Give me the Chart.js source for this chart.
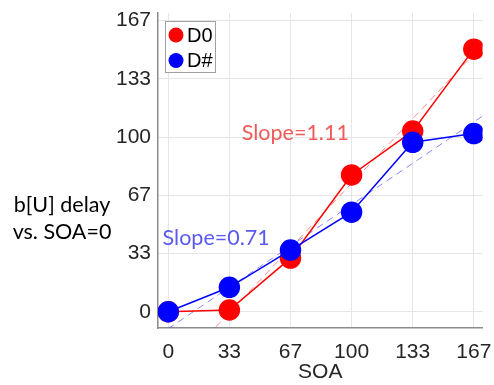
<!DOCTYPE html>
<html>
<head>
<meta charset="utf-8">
<script src="https://cdn.jsdelivr.net/npm/chart.js@4"></script>
<style>
  html, body { margin: 0; padding: 0; background: #fff; }
</style>
</head>
<body>
<canvas id="myChart" width="494" height="385"></canvas>
<script>
/* DATA */

var soa = [0, 33.33, 66.67, 100, 133.33, 166.67];
var tickLabels = ['0', '33', '67', '100', '133', '167'];
var d0 = [0, 1, 30.7, 78.3, 103.4, 150.3];
var dHash = [0, 14, 35.3, 57, 97, 102];
var seriesNames = ['D0', 'D#'];
var fitSlopes = [1.11, 0.71];
var fitIntercepts = [-37.5, -9.7];
var slopeLabels = ['Slope=1.11', 'Slope=0.71'];
var yTitle = ['b[U] delay', 'vs. SOA=0'];

var xMin = -5.6, xMax = 171.4, yMin = -9.3, yMax = 171;

function pts(ys) {
  return soa.map(function(x, i) { return { x: x, y: ys[i] }; });
}

function fitLine(i) {
  return [xMin, xMax].map(function(x) {
    return { x: x, y: fitIntercepts[i] + fitSlopes[i] * x };
  });
}

var calibri = 'Lato, "Open Sans", sans-serif';
var helv = '"Liberation Sans", Arial, sans-serif';

/* EXTRA TEXT + LEGEND */

var extras = {
  id: 'extras',
  afterDraw: function(chart) {
    var ctx = chart.ctx;
    var xs = chart.scales.x, ys = chart.scales.y;
    ctx.save();

    // y title, horizontal on the left
    ctx.fillStyle = '#000';
    ctx.font = '21.5px ' + calibri;
    ctx.textAlign = 'center';
    ctx.textBaseline = 'middle';
    ctx.fillText(yTitle[0], 62, 205);
    ctx.fillText(yTitle[1], 62, 232);

    // slope labels
    ctx.textAlign = 'left';
    ctx.fillStyle = '#f05a5a';
    ctx.fillText(slopeLabels[0], xs.getPixelForValue(40.1), ys.getPixelForValue(102.3));
    ctx.fillStyle = '#5a5af0';
    ctx.fillText(slopeLabels[1], xs.getPixelForValue(-3.1), ys.getPixelForValue(42.2));

    // legend box
    ctx.fillStyle = '#fff';
    ctx.fillRect(165, 21, 51, 52);
    ctx.strokeStyle = '#a0a0a0';
    ctx.lineWidth = 1;
    ctx.strokeRect(165.5, 21.5, 50, 51);
    ctx.font = '20px ' + helv;
    [0, 1].forEach(function(i) {
      var ds = chart.data.datasets[i];
      var cy = 35 + i * 25.5;
      ctx.beginPath();
      ctx.arc(176, cy, 7.5, 0, Math.PI * 2);
      ctx.fillStyle = ds.pointBackgroundColor;
      ctx.fill();
      ctx.fillStyle = '#000';
      ctx.fillText(seriesNames[i], 187, cy + 1);
    });
    ctx.restore();
  }
};

/* CHART */

var ctx = document.getElementById('myChart').getContext('2d');

var chart = new Chart(ctx, {
  type: 'line',
  data: {
    datasets: [{
      label: seriesNames[0],
      data: pts(d0),
      borderColor: '#ff0000',
      backgroundColor: '#ff0000',
      pointBackgroundColor: '#ff0000',
      pointBorderColor: '#ff0000',
      pointRadius: 10,
      borderWidth: 1.5,
      order: 2
    },
    {
      label: seriesNames[1],
      data: pts(dHash),
      borderColor: '#0000ff',
      backgroundColor: '#0000ff',
      pointBackgroundColor: '#0000ff',
      pointBorderColor: '#0000ff',
      pointRadius: 10,
      borderWidth: 1.5,
      order: 1
    },
    {
      label: 'fit D0',
      data: fitLine(0),
      borderColor: 'rgba(255,60,60,0.6)',
      borderDash: [7, 5],
      borderWidth: 1,
      pointRadius: 0,
      order: 3
    },
    {
      label: 'fit D#',
      data: fitLine(1),
      borderColor: 'rgba(70,70,255,0.65)',
      borderDash: [7, 5],
      borderWidth: 1,
      pointRadius: 0,
      order: 3
    }]
  },
  options: {
    responsive: false,
    animation: false,
    layout: { padding: { top: 13, right: 11, left: 0, bottom: 0 } },
    plugins: { legend: { display: false }, tooltip: { enabled: false } },
    scales: {
      x: {
        type: 'linear',
        min: xMin,
        max: xMax,
        afterBuildTicks: function(s) { s.ticks = soa.map(function(v) { return { value: v }; }); },
        afterFit: function(s) { s.height = 57; s.paddingLeft = 0; s.paddingRight = 0; },
        ticks: {
          callback: function(v, i) { return tickLabels[i]; },
          color: '#262626',
          font: { family: helv, size: 21 },
          padding: 12,
          maxRotation: 0
        },
        grid: { color: '#e6e6e6', drawTicks: false },
        border: { color: '#8c8c8c', width: 1.5 },
        title: {
          display: true,
          text: 'SOA',
          color: '#262626',
          font: { family: helv, size: 21 },
          padding: { top: 0, bottom: 0 }
        }
      },
      y: {
        min: yMin,
        max: yMax,
        afterBuildTicks: function(s) { s.ticks = soa.map(function(v) { return { value: v }; }); },
        afterFit: function(s) { s.width = 158; s.paddingTop = 0; s.paddingBottom = 0; },
        ticks: {
          callback: function(v, i) { return tickLabels[i]; },
          color: '#262626',
          font: { family: helv, size: 21 },
          padding: 7
        },
        grid: { color: '#e6e6e6', drawTicks: false },
        border: { color: '#8c8c8c', width: 1.5 }
      }
    }
  },
  plugins: [extras]
});
</script>
</body>
</html>
